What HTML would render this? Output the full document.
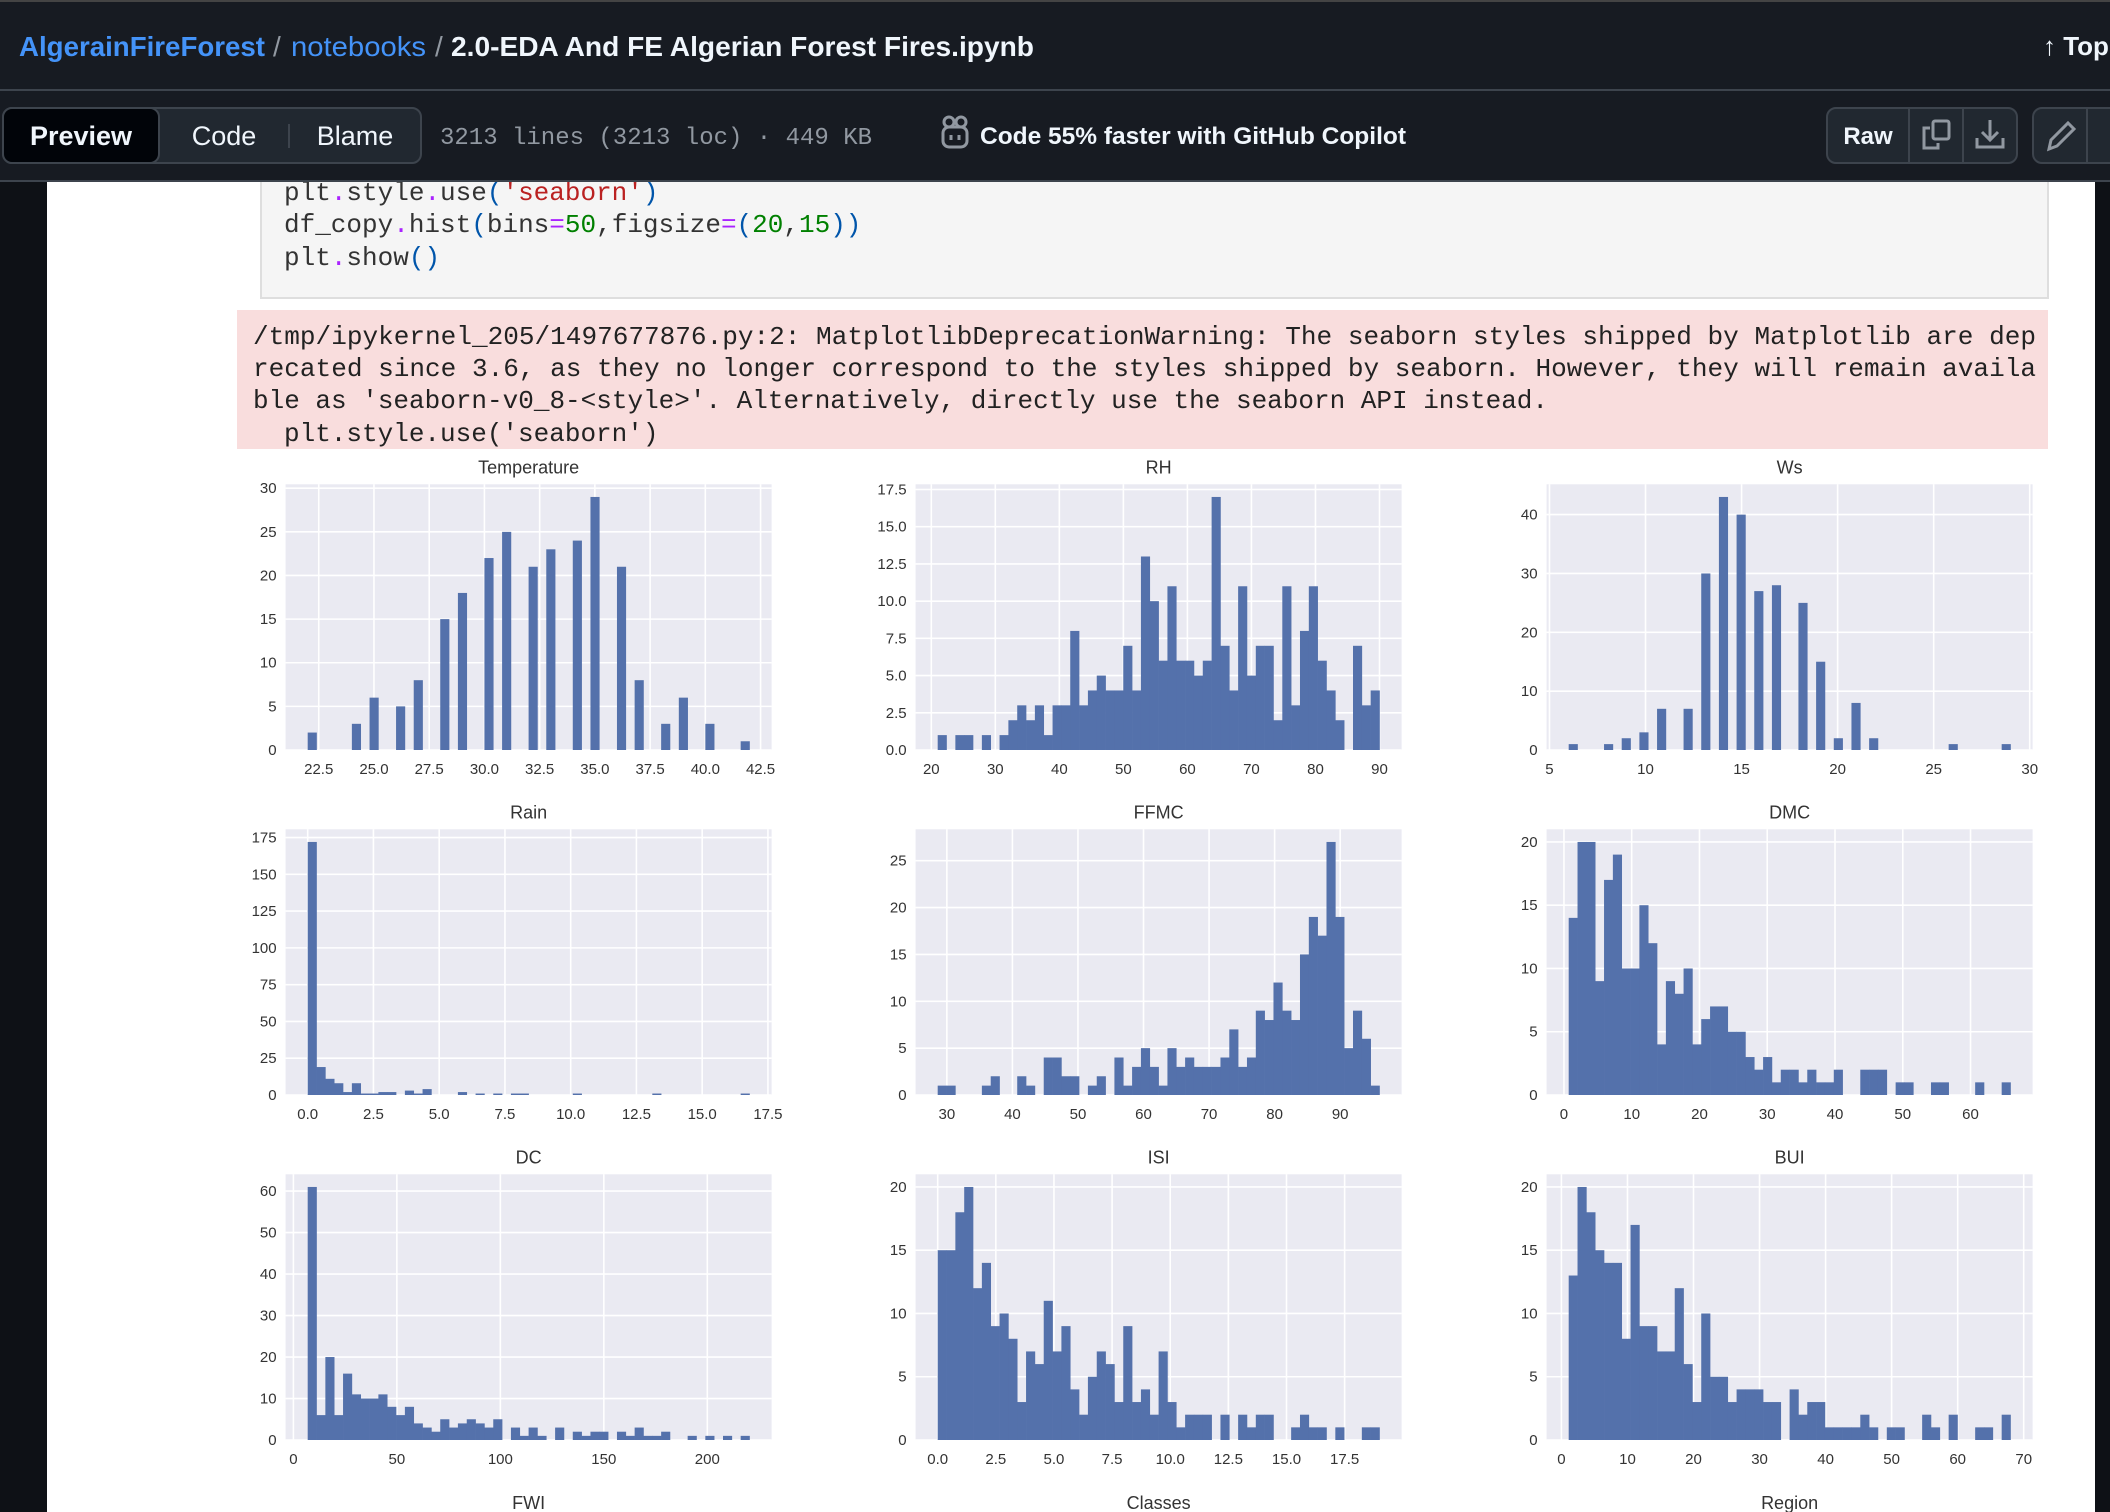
<!DOCTYPE html>
<html><head><meta charset="utf-8">
<style>
html,body{margin:0;padding:0;background:#fff;}
svg{display:block;}
.mono{font-family:"Liberation Mono",monospace;}
.sans{font-family:"Liberation Sans",sans-serif;}
</style></head>
<body>
<svg id="page" width="2110" height="1512" viewBox="0 0 2110 1512" xmlns="http://www.w3.org/2000/svg">
  <rect x="0" y="0" width="2110" height="1512" fill="#ffffff"/>
  <rect x="0" y="180" width="47" height="1332" fill="#0e1116"/>
  <rect x="2095" y="180" width="15" height="1332" fill="#0e1116"/>

  <g>
    <rect x="261" y="150" width="1787" height="148" fill="#f5f5f5" stroke="#dedede" stroke-width="2"/>
    <text class="mono" font-size="26" x="284" y="200" fill="#333">plt<tspan fill="#aa22ff">.</tspan>style<tspan fill="#aa22ff">.</tspan>use<tspan fill="#0055aa">(</tspan><tspan fill="#ba2121">'seaborn'</tspan><tspan fill="#0055aa">)</tspan></text>
    <text class="mono" font-size="26" x="284" y="232" fill="#333">df_copy<tspan fill="#aa22ff">.</tspan>hist<tspan fill="#0055aa">(</tspan>bins<tspan fill="#aa22ff">=</tspan><tspan fill="#008000">50</tspan>,figsize<tspan fill="#aa22ff">=</tspan><tspan fill="#0055aa">(</tspan><tspan fill="#008000">20</tspan>,<tspan fill="#008000">15</tspan><tspan fill="#0055aa">))</tspan></text>
    <text class="mono" font-size="26" x="284" y="265" fill="#333">plt<tspan fill="#aa22ff">.</tspan>show<tspan fill="#0055aa">()</tspan></text>
  </g>

  <g>
    <rect x="237" y="310" width="1811" height="139" fill="#f9dddd"/>
    <text class="mono" font-size="26" x="253" y="344" fill="#222" textLength="1783" lengthAdjust="spacingAndGlyphs">/tmp/ipykernel_205/1497677876.py:2: MatplotlibDeprecationWarning: The seaborn styles shipped by Matplotlib are dep</text>
    <text class="mono" font-size="26" x="253" y="376" fill="#222" textLength="1783" lengthAdjust="spacingAndGlyphs">recated since 3.6, as they no longer correspond to the styles shipped by seaborn. However, they will remain availa</text>
    <text class="mono" font-size="26" x="253" y="408" fill="#222">ble as 'seaborn-v0_8-&lt;style&gt;'. Alternatively, directly use the seaborn API instead.</text>
    <text class="mono" font-size="26" x="284" y="441" fill="#222">plt.style.use('seaborn')</text>
  </g>

  <g id="charts"></g>

  <g>
    <rect x="0" y="0" width="2110" height="90" fill="#171b22"/>
    <rect x="0" y="0" width="2110" height="2" fill="#444"/>
    <rect x="0" y="89" width="2110" height="2" fill="#3d444d"/>
    <text class="sans" font-weight="bold" font-size="28" x="19" y="56" fill="#4493f8" textLength="246" lengthAdjust="spacingAndGlyphs">AlgerainFireForest</text>
    <text class="sans" font-size="28" x="273" y="56" fill="#9198a1">/</text>
    <text class="sans" font-size="28" x="291" y="56" fill="#4493f8" textLength="135" lengthAdjust="spacingAndGlyphs">notebooks</text>
    <text class="sans" font-size="28" x="435" y="56" fill="#9198a1">/</text>
    <text class="sans" font-weight="bold" font-size="28" x="451" y="56" fill="#f0f6fc" textLength="583" lengthAdjust="spacingAndGlyphs">2.0-EDA And FE Algerian Forest Fires.ipynb</text>
    <text class="sans" font-weight="bold" font-size="26" x="2043" y="55" fill="#f0f6fc">↑ Top</text>
  </g>

  <g>
    <rect x="0" y="91" width="2110" height="90" fill="#171b22"/>
    <rect x="0" y="180" width="2110" height="2" fill="#3d444d"/>
    <rect x="3" y="108" width="418" height="55" rx="9" fill="#212830" stroke="#3d444d" stroke-width="2"/>
    <rect x="3" y="108" width="156" height="55" rx="9" fill="#010409" stroke="#3d444d" stroke-width="2"/>
    <text class="sans" font-weight="bold" font-size="27" x="81" y="145" text-anchor="middle" fill="#f0f6fc">Preview</text>
    <text class="sans" font-size="27" x="224" y="145" text-anchor="middle" fill="#f0f6fc">Code</text>
    <rect x="288" y="124" width="2" height="24" fill="#3d444d"/>
    <text class="sans" font-size="27" x="355" y="145" text-anchor="middle" fill="#f0f6fc">Blame</text>
    <text class="mono" font-size="24" x="440" y="144" fill="#9198a1" textLength="432" lengthAdjust="spacingAndGlyphs">3213 lines (3213 loc) · 449 KB</text>
    <g fill="none" stroke="#9198a1" stroke-width="3">
      <rect x="943" y="127" width="24" height="20" rx="6"/>
      <circle cx="949" cy="122" r="5"/><circle cx="961" cy="122" r="5"/>
      <line x1="951" y1="135" x2="951" y2="140"/><line x1="959" y1="135" x2="959" y2="140"/>
    </g>
    <text class="sans" font-weight="bold" font-size="24" x="980" y="144" fill="#f0f6fc" textLength="426" lengthAdjust="spacingAndGlyphs">Code 55% faster with GitHub Copilot</text>
    <rect x="1827" y="108" width="190" height="55" rx="9" fill="#212830" stroke="#3d444d" stroke-width="2"/>
    <text class="sans" font-weight="bold" font-size="24" x="1868" y="144" text-anchor="middle" fill="#f0f6fc">Raw</text>
    <rect x="1908" y="109" width="2" height="53" fill="#3d444d"/>
    <rect x="1962" y="109" width="2" height="53" fill="#3d444d"/>
    <g fill="none" stroke="#9198a1" stroke-width="3">
      <rect x="1933" y="121" width="16" height="18" rx="2"/>
      <path d="M1930 128 h-6 v20 h14 v-5"/>
    </g>
    <g fill="none" stroke="#9198a1" stroke-width="3">
      <path d="M1990 120 v19 M1982 132 l8 8 l8 -8 M1977 138 v9 h26 v-9"/>
    </g>
    <rect x="2033" y="108" width="100" height="55" rx="9" fill="#212830" stroke="#3d444d" stroke-width="2"/>
    <g fill="none" stroke="#9198a1" stroke-width="3">
      <path d="M2049 149 l2 -9 l17 -17 l6 6 l-17 17 z"/>
    </g>
    <rect x="2086" y="109" width="2" height="53" fill="#3d444d"/>
  </g>
</svg>

<script>
const tempRange = [22, 42];
const tempCounts = [2,0,0,0,0,3,0,6,0,0,5,0,8,0,0,15,0,18,0,0,22,0,25,0,0,21,0,23,0,0,24,0,29,0,0,21,0,8,0,0,3,0,6,0,0,3,0,0,0,1];
const tempXTicks = [22.5,25,27.5,30,32.5,35,37.5,40,42.5];
const tempXLabels = ["22.5","25.0","27.5","30.0","32.5","35.0","37.5","40.0","42.5"];
const tempYTicks = [0,5,10,15,20,25,30];
const tempYLabels = ["0","5","10","15","20","25","30"];

const rhRange = [21, 90];
const rhCounts = [1,0,1,1,0,1,0,1,2,3,2,3,1,3,3,8,3,4,5,4,4,7,4,13,10,6,11,6,6,5,6,17,7,4,11,5,7,7,2,11,3,8,11,6,4,2,0,7,3,4];
const rhXTicks = [20,30,40,50,60,70,80,90];
const rhXLabels = ["20","30","40","50","60","70","80","90"];
const rhYTicks = [0,2.5,5,7.5,10,12.5,15,17.5];
const rhYLabels = ["0.0","2.5","5.0","7.5","10.0","12.5","15.0","17.5"];

const wsRange = [6, 29];
const wsCounts = [1,0,0,0,1,0,2,0,3,0,7,0,0,7,0,30,0,43,0,40,0,27,0,28,0,0,25,0,15,0,2,0,8,0,2,0,0,0,0,0,0,0,0,1,0,0,0,0,0,1];
const wsXTicks = [5,10,15,20,25,30];
const wsXLabels = ["5","10","15","20","25","30"];
const wsYTicks = [0,10,20,30,40];
const wsYLabels = ["0","10","20","30","40"];

const rainRange = [0, 16.8];
const rainCounts = [172,19,11,8,2,8,1,1,2,2,0,3,1,4,0,0,0,2,0,1,0,1,0,1,1,0,0,0,0,0,1,0,0,0,0,0,0,0,0,1,0,0,0,0,0,0,0,0,0,1];
const rainXTicks = [0,2.5,5,7.5,10,12.5,15,17.5];
const rainXLabels = ["0.0","2.5","5.0","7.5","10.0","12.5","15.0","17.5"];
const rainYTicks = [0,25,50,75,100,125,150,175];
const rainYLabels = ["0","25","50","75","100","125","150","175"];

const ffmcRange = [28.6, 96];
const ffmcCounts = [1,1,0,0,0,1,2,0,0,2,1,0,4,4,2,2,0,1,2,0,4,1,3,5,3,1,5,3,4,3,3,3,4,7,3,4,9,8,12,9,8,15,19,17,27,19,5,9,6,1];
const ffmcXTicks = [30,40,50,60,70,80,90];
const ffmcXLabels = ["30","40","50","60","70","80","90"];
const ffmcYTicks = [0,5,10,15,20,25];
const ffmcYLabels = ["0","5","10","15","20","25"];

const dmcRange = [0.7, 65.9];
const dmcCounts = [14,20,20,9,17,19,10,10,15,12,4,9,8,10,4,6,7,7,5,5,3,2,3,1,2,2,1,2,1,1,2,0,0,2,2,2,0,1,1,0,0,1,1,0,0,0,1,0,0,1];
const dmcXTicks = [0,10,20,30,40,50,60];
const dmcXLabels = ["0","10","20","30","40","50","60"];
const dmcYTicks = [0,5,10,15,20];
const dmcYLabels = ["0","5","10","15","20"];

const dcRange = [6.9, 220.4];
const dcCounts = [61,6,20,6,16,11,10,10,11,8,6,8,4,3,2,5,3,4,5,4,3,5,0,3,1,3,1,0,3,0,2,1,2,2,0,2,1,3,1,1,2,0,0,1,0,1,0,1,0,1];
const dcXTicks = [0,50,100,150,200];
const dcXLabels = ["0","50","100","150","200"];
const dcYTicks = [0,10,20,30,40,50,60];
const dcYLabels = ["0","10","20","30","40","50","60"];

const isiRange = [0, 19];
const isiCounts = [15,15,18,20,12,14,9,10,8,3,7,6,11,7,9,4,2,5,7,6,3,9,3,4,2,7,3,1,2,2,2,0,2,0,2,1,2,2,0,0,1,2,1,1,0,1,0,0,1,1];
const isiXTicks = [0,2.5,5,7.5,10,12.5,15,17.5];
const isiXLabels = ["0.0","2.5","5.0","7.5","10.0","12.5","15.0","17.5"];
const isiYTicks = [0,5,10,15,20];
const isiYLabels = ["0","5","10","15","20"];

const buiRange = [1.1, 68];
const buiCounts = [13,20,18,15,14,14,8,17,9,9,7,7,12,6,3,10,5,5,3,4,4,4,3,3,0,4,2,3,3,1,1,1,1,2,1,0,1,1,0,0,2,1,0,2,0,0,1,1,0,2];
const buiXTicks = [0,10,20,30,40,50,60,70];
const buiXLabels = ["0","10","20","30","40","50","60","70"];
const buiYTicks = [0,5,10,15,20];
const buiYLabels = ["0","5","10","15","20"];

const chartTitles = ["Temperature","RH","Ws","Rain","FFMC","DMC","DC","ISI","BUI"];
const nextRowTitles = ["FWI","Classes","Region"];

const colLeft = [285.6, 915.6, 1546.6];
const plotW = 486;
const rowTop = [484.3, 829.3, 1174.3];
const plotH = 265.7;
const NS = "http://www.w3.org/2000/svg";
const root = document.getElementById("charts");

function mk(tag, attrs, parent) {
  const el = document.createElementNS(NS, tag);
  for (const k in attrs) el.setAttribute(k, attrs[k]);
  (parent || root).appendChild(el);
  return el;
}

function drawHist(idx, range, counts, xt, xl, yt, yl) {
  const col = idx % 3, row = Math.floor(idx / 3);
  const L = colLeft[col], T = rowTop[row], B = T + plotH, R = L + plotW;
  const D = range[1] - range[0];
  const x0 = range[0] - 0.05 * D, x1 = range[1] + 0.05 * D;
  const ymax = Math.max.apply(null, counts) * 1.05;
  const sx = v => L + (v - x0) / (x1 - x0) * plotW;
  const sy = v => B - v / ymax * plotH;

  const g = mk("g", {});
  
  

  const bg = mk("rect", {x: L, y: T, width: plotW, height: plotH, fill: "#eaeaf2"}, g);
  
  

  xt.forEach((v, i) => {
    const x = sx(v);
    mk("line", {x1: x, y1: T, x2: x, y2: B, stroke: "#fff", "stroke-width": 1.6}, g);
    const t = mk("text", {x: x, y: B + 24, "text-anchor": "middle", "font-size": 15, fill: "#333", "font-family": "Liberation Sans, sans-serif"}, g);
    t.textContent = xl[i];
    
    
  });
  yt.forEach((v, i) => {
    const y = sy(v);
    mk("line", {x1: L, y1: y, x2: R, y2: y, stroke: "#fff", "stroke-width": 1.6}, g);
    const t = mk("text", {x: L - 9, y: y + 5, "text-anchor": "end", "font-size": 15, fill: "#333", "font-family": "Liberation Sans, sans-serif"}, g);
    t.textContent = yl[i];
    
    
  });

  const bw = D / counts.length;
  counts.forEach((c, i) => {
    if (c <= 0) return;
    const a = sx(range[0] + i * bw), b = sx(range[0] + (i + 1) * bw);
    const r = mk("rect", {x: a, y: sy(c), width: b - a + 0.3, height: B - sy(c), fill: "#5471ab"}, g);
    
    
  });

  const tt = mk("text", {x: L + plotW / 2, y: T - 11, "text-anchor": "middle", "font-size": 18, fill: "#333", "font-family": "Liberation Sans, sans-serif"}, g);
  tt.textContent = chartTitles[idx];
  
  
}

drawHist(0, tempRange, tempCounts, tempXTicks, tempXLabels, tempYTicks, tempYLabels);
drawHist(1, rhRange, rhCounts, rhXTicks, rhXLabels, rhYTicks, rhYLabels);
drawHist(2, wsRange, wsCounts, wsXTicks, wsXLabels, wsYTicks, wsYLabels);
drawHist(3, rainRange, rainCounts, rainXTicks, rainXLabels, rainYTicks, rainYLabels);
drawHist(4, ffmcRange, ffmcCounts, ffmcXTicks, ffmcXLabels, ffmcYTicks, ffmcYLabels);
drawHist(5, dmcRange, dmcCounts, dmcXTicks, dmcXLabels, dmcYTicks, dmcYLabels);
drawHist(6, dcRange, dcCounts, dcXTicks, dcXLabels, dcYTicks, dcYLabels);
drawHist(7, isiRange, isiCounts, isiXTicks, isiXLabels, isiYTicks, isiYLabels);
drawHist(8, buiRange, buiCounts, buiXTicks, buiXLabels, buiYTicks, buiYLabels);

nextRowTitles.forEach((name, i) => {
  const t = mk("text", {x: colLeft[i] + plotW / 2, y: 1509, "text-anchor": "middle", "font-size": 18, fill: "#333", "font-family": "Liberation Sans, sans-serif"});
  t.textContent = name;
  
  
});
</script>
</body></html>
